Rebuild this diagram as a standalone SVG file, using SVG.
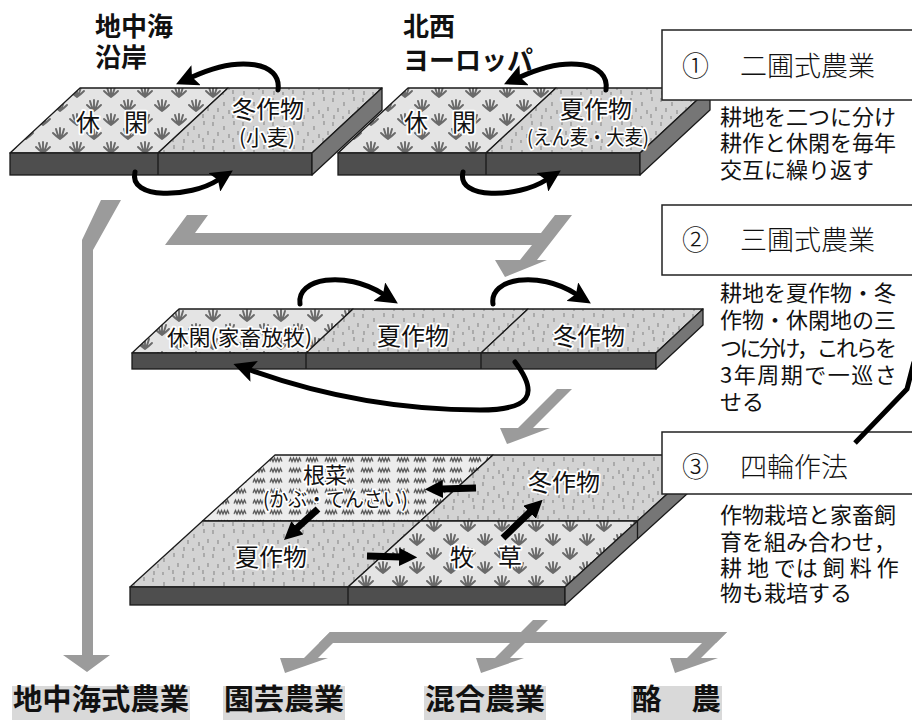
<svg xmlns="http://www.w3.org/2000/svg" xmlns:xlink="http://www.w3.org/1999/xlink" width="912" height="720" viewBox="0 0 912 720">
<style>
text{font-family:"Noto Sans CJK JP","Noto Sans CJK SC",sans-serif;fill:#111}
.on{stroke:#fff;stroke-width:3.5;paint-order:stroke;stroke-linejoin:round}
.ed{stroke:#1a1a1a;stroke-width:1.3;stroke-linejoin:round}
.front{fill:#4e4e4e;stroke:#1a1a1a;stroke-width:1.3}
.side{fill:#767676;stroke:#1a1a1a;stroke-width:1.3;stroke-linejoin:round}
.gray{fill:#9b9b9b}
.blk{fill:none;stroke:#000;stroke-width:5;stroke-linecap:round}
.bar{fill:none;stroke:#000;stroke-width:7}
.box{fill:#fff;stroke:#222;stroke-width:1.5}
.ttl{font-size:27px;font-weight:300}
.desc{font-size:22px}
.big{font-size:26px;font-weight:700}
.res{font-size:29px;font-weight:700}
.hl{fill:#d9d9d9}
</style>
<defs>
<g id="tuft"><path d="M0,0 Q-4,-3 -7,-6 M0,0 Q-3,-5 -4,-10 M0,0 Q0,-6 0,-11 M0,0 Q3,-5 4,-10 M0,0 Q4,-3 7,-6" fill="none" stroke="#6a6a6a" stroke-width="1.9" stroke-linecap="round"/></g>
<pattern id="grass" width="34" height="28" patternUnits="userSpaceOnUse">
<rect width="34" height="28" fill="#e4e4e4"/>
<use href="#tuft" x="9" y="13"/>
<use href="#tuft" x="26" y="27"/>
</pattern>
<pattern id="dots" width="30" height="24" patternUnits="userSpaceOnUse">
<rect width="30" height="24" fill="#d3d3d3"/>
<path d="M3,2v4M14,6v4M24,1v4M8,12v4M19,14v4M28,11v4M4,19v4M13,20v3M23,18v4" stroke="#8a8a8a" stroke-width="1.1"/>
</pattern>
<pattern id="rows" width="36" height="10.5" y="455" patternUnits="userSpaceOnUse">
<rect width="36" height="10.5" fill="#ececec"/>
<path d="M1,6.5l1.5,-3.5l1.5,3.5l1.5,-3.5l1.5,3.5l1.5,-3.5l1.5,3.5l1.5,-3.5l1.5,3.5M18,6.5l1.5,-3.5l1.5,3.5l1.5,-3.5l1.5,3.5l1.5,-3.5l1.5,3.5l1.5,-3.5l1.5,3.5" stroke="#555" stroke-width="1.3" fill="none"/>
</pattern>
<marker id="ah" viewBox="0 0 10 10" refX="2" refY="5" markerWidth="22" markerHeight="22" markerUnits="userSpaceOnUse" orient="auto"><path d="M0,0 L10,5 L0,10 L2,5 z" fill="#000"/></marker>
<marker id="bh" viewBox="0 0 10 10" refX="1" refY="5" markerWidth="18" markerHeight="18" markerUnits="userSpaceOnUse" orient="auto"><path d="M0,0 L10,5 L0,10 z" fill="#000"/></marker>
</defs>
<rect width="912" height="720" fill="#fff"/>

<g id="label-med"><text class="big" x="95" y="36">地中海</text><text class="big" x="95" y="67">沿岸</text></g>
<g id="label-nw"><text class="big" x="403" y="36">北西</text><text class="big" x="403" y="70">ヨーロッパ</text></g>

<g id="slab1">
<polygon points="80,88 228,88 158,153 10,153" fill="url(#grass)" class="ed"/>
<polygon points="228,88 382,88 312,153 158,153" fill="url(#dots)" class="ed"/>
<rect x="10" y="153" width="302" height="22" class="front"/>
<line x1="158" y1="153" x2="158" y2="175" class="ed"/>
<polygon points="312,153 382,88 382,110 312,175" class="side"/>
<text class="on" x="76" y="131" font-size="24">休　閑</text>
<text class="on" x="232" y="118" font-size="24">冬作物</text>
<text class="on" x="239" y="145" font-size="21">(小麦)</text>
</g>

<g id="slab2">
<g transform="translate(328 0)">
<polygon points="80,88 228,88 158,153 10,153" fill="url(#grass)" class="ed"/>
<polygon points="228,88 382,88 312,153 158,153" fill="url(#dots)" class="ed"/>
<rect x="10" y="153" width="302" height="22" class="front"/>
<line x1="158" y1="153" x2="158" y2="175" class="ed"/>
<polygon points="312,153 382,88 382,110 312,175" class="side"/>
<text class="on" x="76" y="131" font-size="24">休　閑</text>
</g>
<text class="on" x="560" y="118" font-size="24">夏作物</text>
<text class="on" x="527" y="145" font-size="20" textLength="122" lengthAdjust="spacingAndGlyphs">(えん麦・大麦)</text>
</g>

<g id="slab3">
<polygon points="179,309 353,309 306,353 132,353" fill="url(#grass)" class="ed"/>
<polygon points="353,309 528,309 481,353 306,353" fill="url(#dots)" class="ed"/>
<polygon points="528,309 703,309 656,353 481,353" fill="url(#dots)" class="ed"/>
<rect x="132" y="353" width="524" height="16" class="front"/>
<line x1="306" y1="353" x2="306" y2="369" class="ed"/>
<line x1="481" y1="353" x2="481" y2="369" class="ed"/>
<polygon points="656,353 703,309 703,325 656,369" class="side"/>
<text class="on" x="167" y="345" font-size="21" textLength="145" lengthAdjust="spacingAndGlyphs">休閑(家畜放牧)</text>
<text class="on" x="377" y="345" font-size="24">夏作物</text>
<text class="on" x="553" y="345" font-size="24">冬作物</text>
</g>

<g id="slab4">
<polygon points="275,455 493,455 420.5,521 202.5,521" fill="url(#rows)" class="ed"/>
<polygon points="493,455 710,455 637.5,521 420.5,521" fill="url(#dots)" class="ed"/>
<polygon points="202.5,521 420.5,521 348,587 130,587" fill="url(#dots)" class="ed"/>
<polygon points="420.5,521 637.5,521 565,587 348,587" fill="url(#grass)" class="ed"/>
<rect x="130" y="587" width="435" height="18" class="front"/>
<line x1="348" y1="587" x2="348" y2="605" class="ed"/>
<polygon points="565,587 710,455 710,473 565,605" class="side"/>
<line x1="637.5" y1="521" x2="637.5" y2="539" class="ed"/>
<text class="on" x="303" y="483" font-size="22">根菜</text>
<text class="on" x="263" y="507" font-size="20" textLength="145" lengthAdjust="spacingAndGlyphs">(かぶ・てんさい)</text>
<text class="on" x="235" y="566" font-size="24">夏作物</text>
<text class="on" x="528" y="491" font-size="24">冬作物</text>
<text class="on" x="450" y="566" font-size="24">牧　草</text>
</g>

<g id="connectors">
<path class="blk" marker-end="url(#ah)" d="M278,90 C282,62 240,55 192,77"/>
<path class="blk" marker-end="url(#ah)" d="M135,172 C128,200 190,198 218,180"/>
<path class="blk" marker-end="url(#ah)" d="M606,90 C610,62 568,55 520,77"/>
<path class="blk" marker-end="url(#ah)" d="M463,172 C456,200 518,198 546,180"/>
<path class="blk" marker-end="url(#ah)" d="M300,304 C296,278 345,270 383,294"/>
<path class="blk" marker-end="url(#ah)" d="M493,304 C489,278 538,270 576,294"/>
<path class="blk" marker-end="url(#ah)" d="M515,362 C540,395 530,410 480,410 C400,410 320,395 250,370"/>
<path class="bar" marker-end="url(#bh)" d="M476,488 L441,489"/>
<path class="bar" marker-end="url(#bh)" d="M318,509 L296,529"/>
<path class="bar" marker-end="url(#bh)" d="M367,556 L401,557"/>
<path class="bar" marker-end="url(#bh)" d="M503,538 L531,511"/>
<polygon class="gray" points="101,200 121,200 93,250 93,655 110,655 87,672 63,655 82,655 82,240"/>
<polygon class="gray" points="187,215 208,215 195,233 541,233 555,215 572,215 537,260 547,260 505,277 495,260 520,260 532,245 165,245"/>
<polygon class="gray" points="557,389 572,389 533,428 550,428 507,444 500,428 518,428"/>
<polygon class="gray" points="330,632 727,632 716,643 319,643"/>
<polygon class="gray" points="330,632 344,632 318,658 328,658 285,673 280,658 304,658"/>
<polygon class="gray" points="533,620 548,620 510,658 524,658 481,673 476,658 495,658"/>
<polygon class="gray" points="713,632 727,632 701,658 718,658 675,673 670,658 687,658"/>
</g>

<g id="box1"><rect class="box" x="662" y="30" width="260" height="70"/><text class="ttl" x="682" y="76">①</text><text class="ttl" x="740" y="76">二圃式農業</text></g>
<g id="desc1"><text class="desc"><tspan x="720" y="125">耕地を二つに分け</tspan><tspan x="720" y="151">耕作と休閑を毎年</tspan><tspan x="720" y="178">交互に繰り返す</tspan></text></g>

<g id="box2"><rect class="box" x="662" y="205" width="260" height="70"/><text class="ttl" x="682" y="250">②</text><text class="ttl" x="740" y="250">三圃式農業</text></g>
<g id="desc2"><text class="desc"><tspan x="720" y="301">耕地を夏作物・冬</tspan><tspan x="720" y="328">作物・休閑地の三</tspan><tspan x="720" y="356" letter-spacing="-2.5">つに分け，これらを</tspan><tspan x="720" y="383" letter-spacing="1.5">3年周期で一巡さ</tspan><tspan x="720" y="410" letter-spacing="0">せる</tspan></text></g>

<g id="box3"><rect class="box" x="662" y="432" width="260" height="62"/><text class="ttl" x="682" y="477">③</text><text class="ttl" x="740" y="477">四輪作法</text></g>
<g id="callout"><polyline points="914,362 907,389 855,443" fill="none" stroke="#000" stroke-width="5"/></g>
<g id="desc3"><text class="desc"><tspan x="720" y="523">作物栽培と家畜飼</tspan><tspan x="720" y="550">育を組み合わせ，</tspan><tspan x="720" y="576">耕 地 では 飼 料 作</tspan><tspan x="720" y="601">物も栽培する</tspan></text></g>

<g id="res-med"><rect class="hl" x="12" y="686" width="178" height="34"/><text class="res" x="13" y="710" textLength="176" lengthAdjust="spacingAndGlyphs">地中海式農業</text></g>
<g id="res-hort"><rect class="hl" x="223" y="686" width="122" height="34"/><text class="res" x="224" y="710" textLength="120" lengthAdjust="spacingAndGlyphs">園芸農業</text></g>
<g id="res-mixed"><rect class="hl" x="424" y="686" width="122" height="34"/><text class="res" x="425" y="710" textLength="120" lengthAdjust="spacingAndGlyphs">混合農業</text></g>
<g id="res-dairy"><rect class="hl" x="631" y="686" width="91" height="34"/><text class="res" x="632" y="710" textLength="89" lengthAdjust="spacingAndGlyphs">酪　農</text></g>
</svg>
